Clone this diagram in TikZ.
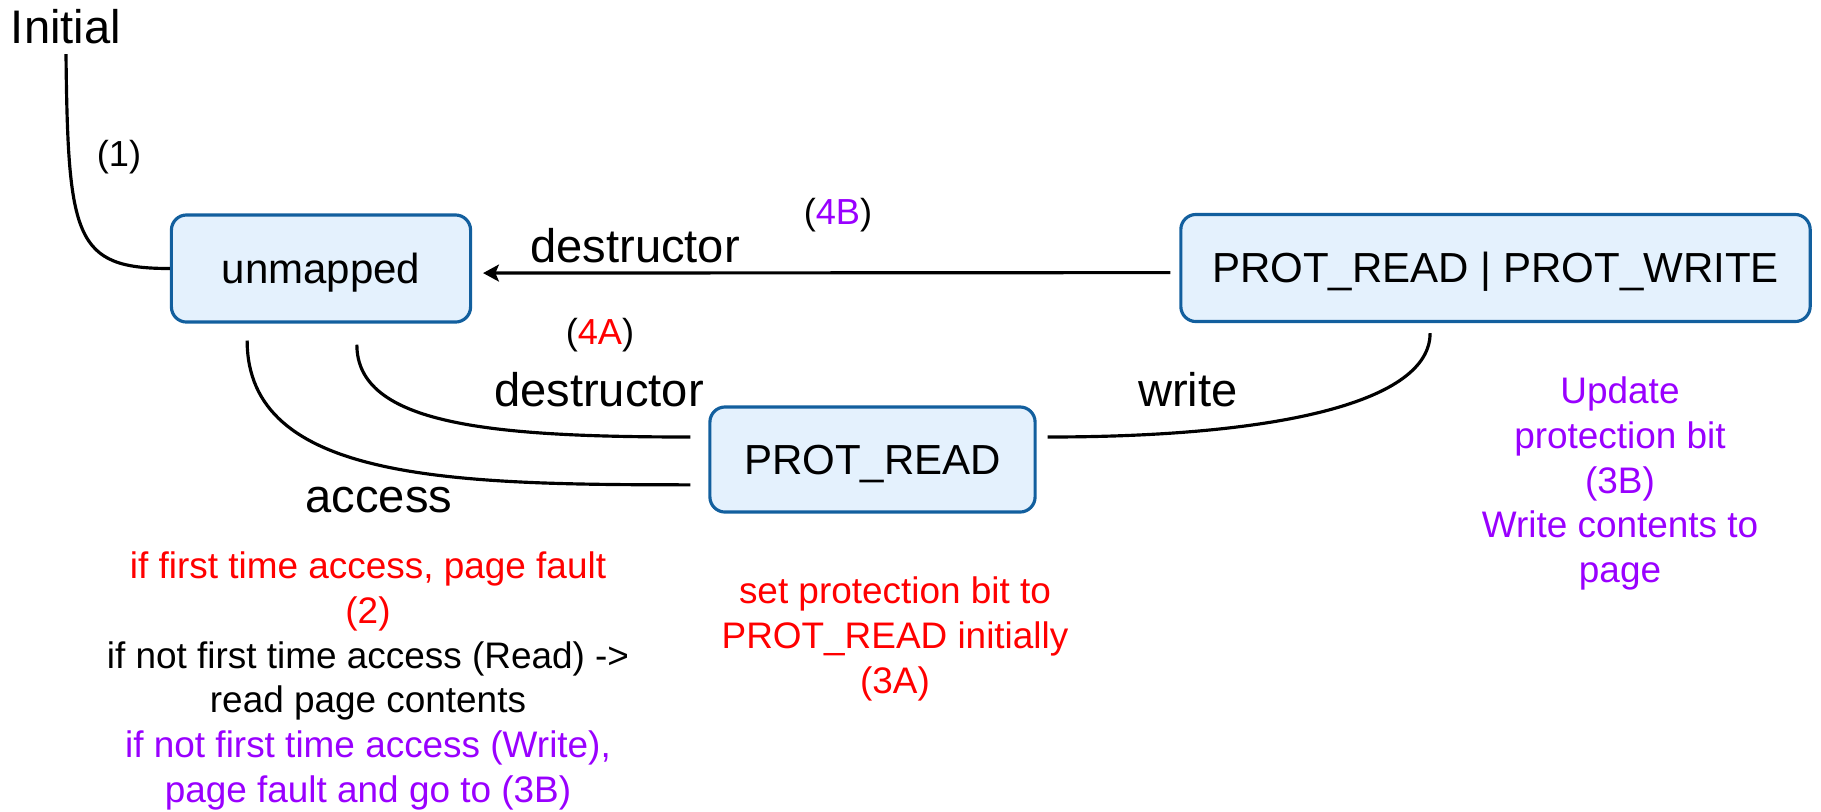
\documentclass[tikz,border=0pt]{standalone}
\usepackage{fontspec}
\setmainfont{Liberation Sans}
\usetikzlibrary{arrows.meta,positioning,calc}

\definecolor{boxfill}{HTML}{E4F1FD}
\definecolor{boxline}{HTML}{125F9E}
\definecolor{stepred}{HTML}{FF0000}
\definecolor{steppurple}{HTML}{9900FF}

\begin{document}
\begin{tikzpicture}[
    x=0.01cm, y=-0.01cm,
    state/.style={draw=boxline, fill=boxfill, line width=0.9pt, rounded corners=4.3pt, minimum height=1.07cm,
      text height=0.93em, text depth=0.1em, inner sep=0pt, font=\fontsize{11.95}{14}\selectfont},
    edge/.style={line width=0.9pt},
    move/.style={edge, -{Stealth[length=4.5pt, width=4.8pt, inset=1pt]}},
    lbl/.style={font=\fontsize{13.4}{16}\selectfont, anchor=base, inner sep=0pt},
    tag/.style={font=\fontsize{10.3}{12}\selectfont, anchor=base, inner sep=0pt},
    note/.style={font=\fontsize{10.5}{12.75}\selectfont, align=center, anchor=north, inner sep=0pt},
  ]
  \useasboundingbox (0,0) rectangle (1821,811);

  % States
  \node[state, minimum width=2.99cm] (unmapped) at (321,268.5) {unmapped};
  \node[state, minimum width=6.29cm] (rw) at (1495.5,268) {PROT\_READ | PROT\_WRITE};
  \node[state, minimum width=3.25cm, minimum height=1.05cm] (rd) at (872.5,459.5) {PROT\_READ};

  % Start
  \node[lbl, inner ysep=2.8pt] (init) at (66,43) {Initial};
  \draw[edge] (init.south) .. controls +(2,185) and +(-95,0) .. (unmapped.west);
  \node[tag] (one) at (119,166) {(1)};

  % Transitions
  \draw[move, shorten >=3.1pt, shorten <=2.5pt] ([yshift=-1.3pt]rw.west) -- ([yshift=-1.3pt]unmapped.east);
  \draw[edge] ([xshift=10.2pt, yshift=-6pt]unmapped.south) .. controls +(0,80) and +(-200,0) .. ([xshift=-5.1pt, yshift=6.4pt]rd.west);
  \draw[edge] ([xshift=-21pt, yshift=-4.8pt]unmapped.south) .. controls +(0,140) and +(-240,0) .. ([xshift=-5.1pt, yshift=-7.2pt]rd.west);
  \draw[edge] ([xshift=3.1pt, yshift=6.4pt]rd.east) .. controls +(234,0) and +(0,68) .. ([xshift=-18.6pt, yshift=-2.85pt]rw.south);

  % Transition labels
  \node[lbl] (dtop) at (635,262) {destructor};
  \node[tag] (fourb) at (838,224) {(\textcolor{steppurple}{4B})};
  \node[tag] (foura) at (600,344) {(\textcolor{stepred}{4A})};
  \node[lbl] (dlow) at (599,406) {destructor};
  \node[lbl] (write) at (1188,406) {write};
  \node[lbl] (access) at (379,512) {access};

  % Notes
  \node[note] (twonote) at (368,551) {\textcolor{stepred}{if first time access, page fault}\\
    \textcolor{stepred}{(2)}\\
    if not first time access (Read) ->\\
    read page contents\\
    \textcolor{steppurple}{if not first time access (Write),}\\
    \textcolor{steppurple}{page fault and go to (3B)}};
  \node[note, text=stepred] (threea) at (895,576) {set protection bit to\\ PROT\_READ initially\\ (3A)};
  \node[note, text=steppurple] (threeb) at (1620,376) {Update\\ protection bit\\ (3B)\\ Write contents to\\ page};
\end{tikzpicture}
\end{document}
